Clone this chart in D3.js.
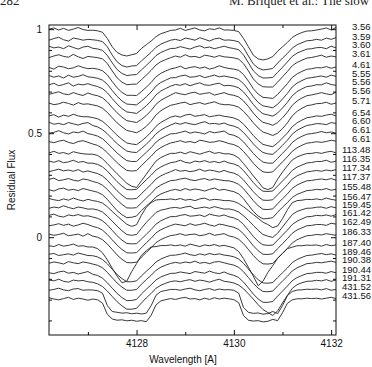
<!DOCTYPE html>
<html>
<head>
<meta charset="utf-8">
<script src="https://cdn.jsdelivr.net/npm/d3@7"></script>
<style>
body { margin: 0; background: #fff; }
svg text { font-family: "Liberation Sans", Arial, sans-serif; }
</style>
</head>
<body>
<svg id="chart" width="372" height="367"></svg>
<script>
// wavelength grid [A]
var wave = [4126.2,4126.3,4126.4,4126.5,4126.6,4126.7,4126.8,4126.9,4127.0,4127.1,
 4127.2,4127.3,4127.4,4127.5,4127.6,4127.7,4127.8,4127.9,4128.0,4128.1,
 4128.2,4128.3,4128.4,4128.5,4128.6,4128.7,4128.8,4128.9,4129.0,4129.1,
 4129.2,4129.3,4129.4,4129.5,4129.6,4129.7,4129.8,4129.9,4130.0,4130.1,
 4130.2,4130.3,4130.4,4130.5,4130.6,4130.7,4130.8,4130.9,4131.0,4131.1,
 4131.2,4131.3,4131.4,4131.5,4131.6,4131.7,4131.8,4131.9,4132.0,4132.1];

// depth below the continuum, in thousandths, one array per spectrum
var s01 = [0,-6,4,-4,6,0,-8,2,6, 5,8,15,45,85,112,124,129,123,117,93,75,57,36,22,14,6, 4,-4,6,0,-6,4,8,-2,2,-6,4, 4,6,12,45,85,125,143,148,143,132,106,85,64,40,26,16,9,8,4, 0,-6,4,-8];
var s02 = [6,-2,-8,4,10,-4,0,6,2, 4,7,13,38,78,110,128,135,130,128,106,85,64,40,25,15,6, 2,8,-4,0,6,-6,2,10,0,-4,6, 5,8,14,42,82,120,140,149,146,142,116,92,70,44,28,18,9,7,2, 6,-4,2,-6];
var s03 = [-4,4,0,8,-6,2,10,0,-4, 6,9,16,40,76,108,127,137,134,132,110,88,66,41,26,16,7, 6,-2,4,10,0,-6,4,0,8,2,-4, 3,7,13,38,76,114,137,149,148,146,122,97,72,45,29,19,10,8,3, 2,8,-4,4];
var s04 = [8,0,-6,2,6,-8,4,12,2, 5,8,14,36,72,105,126,138,136,135,114,92,69,43,27,17,8, 0,6,-6,4,2,8,-4,0,6,-2,4, 6,9,15,37,72,110,134,148,149,149,126,100,75,47,31,20,10,7,2, -4,6,0,4];
var s05 = [2,10,-4,0,8,4,-6,2,8, 6,10,18,38,70,100,122,136,136,137,118,97,74,47,30,19,9, 4,-4,8,2,-2,6,0,10,4,-6,2, 7,10,16,36,68,104,130,146,148,151,132,106,80,50,33,21,11,8,3, 4,-2,6,0];
var s06 = [-2,6,0,10,-4,6,2,-6,4, 7,11,20,40,70,98,120,135,137,139,121,100,77,49,31,20,9, 8,0,-4,6,4,-2,8,2,-4,4,0, 5,9,17,37,67,100,127,144,148,153,136,111,84,53,34,22,11,8,4, 0,6,-4,2];
var s07 = [4,-4,8,2,-6,10,0,4,-2, 6,12,22,42,70,96,118,134,137,141,124,104,81,52,33,21,10, 2,6,-2,8,0,-6,4,6,0,-4,8, 6,10,18,38,66,98,124,143,148,154,139,115,88,56,36,23,12,9,3, 4,-6,2,6];
var s08 = [6,0,-6,4,8,-2,6,12,0, 8,13,23,43,70,95,116,133,137,142,127,108,84,54,35,22,10, -2,4,8,0,-4,6,2,-2,10,4,-2, 7,11,19,38,65,96,122,141,147,155,142,119,92,59,38,24,13,9,4, -2,4,8,-4];
var s09 = [0,8,4,-4,2,10,-2,6,4, 9,14,25,45,71,95,115,132,137,143,130,112,88,57,37,23,11, 6,0,-4,8,2,-2,6,0,-6,4,8, 8,12,20,40,66,95,120,140,147,156,145,123,96,62,40,25,13,9,3, 2,-4,6,0];
var s10 = [4,-2,10,0,6,-4,4,8,8, 12,18,30,50,74,97,117,134,139,142,125,105,82,54,35,22,10, 4,10,0,-4,6,2,-2,8,4,0,6, 9,14,24,44,70,98,122,141,147,152,134,110,86,56,37,24,13,9,4, 6,0,-4,4];
var s11 = [-4,6,2,8,-2,4,10,2,-2, 12,19,32,52,76,99,118,135,140,142,123,102,79,52,34,21,10, 0,6,-2,4,8,0,-6,4,2,6,0, 10,15,25,46,72,100,124,142,148,151,131,107,83,54,35,23,12,8,3, 4,8,-2,2];
var s12 = [6,2,-6,4,10,0,4,-4,8, 13,20,33,54,78,101,121,138,142,142,120,98,76,49,32,20,9, 8,2,-4,6,0,4,10,-2,4,0,-4, 11,16,27,48,75,103,127,145,150,150,127,103,79,51,33,21,11,8,4, -2,4,0,6];
var s13 = [2,8,0,-4,6,12,2,-2,6, 14,21,35,56,80,104,124,141,144,142,118,95,73,47,31,19,9, 4,-2,6,2,8,-4,0,6,4,-2,4, 12,17,28,50,77,106,130,148,151,148,124,100,76,49,32,20,10,7,3, 6,2,-4,0];
var s14 = [4,-4,6,2,10,-2,4,8,10, 10,16,32,55,80,104,127,150,164,170,138,106,74,43,26,15,6, 6,0,8,-2,4,10,2,-4,6,2,8, 8,14,28,55,84,114,142,172,180,170,130,96,66,38,23,14,7,6,2, 6,0,-4,4];
var s15 = [0,6,-2,8,4,-4,6,2,10, 10,16,28,48,74,99,120,137,138,136,113,90,68,43,28,17,8, 4,-4,6,10,0,4,-2,6,2,8,0, 9,14,24,46,74,103,128,145,146,144,120,96,72,45,29,19,9,7,2, 2,-4,6,0];
var s16 = [8,2,-4,4,0,6,-2,10,4, 11,17,29,49,75,100,121,138,139,137,114,91,69,43,28,17,8, -2,6,2,8,4,-4,6,0,4,10,2, 10,15,26,48,76,104,128,145,146,143,119,95,71,44,28,18,9,6,2, 6,0,4,-2];
var s17 = [2,-4,8,4,-2,6,10,0,4, 12,18,30,50,76,101,122,139,140,138,115,92,70,44,29,18,8, 6,0,-4,4,8,2,-2,6,0,4,8, 9,15,26,47,75,104,129,146,147,144,119,95,72,45,29,18,9,7,3, 0,4,-2,6];
var s18 = [4,10,0,-4,6,2,8,-2,4, 10,16,28,50,78,104,124,138,136,130,104,82,62,38,24,15,7, 2,8,-2,6,0,4,10,2,-4,6,2, 8,13,24,47,78,108,130,144,142,138,112,88,66,41,26,17,8,6,2, 4,-2,6,2];
var s19 = [-2,4,8,0,6,-4,4,10,2, 8,12,20,38,60,82,102,122,132,124,78,40,18,5,3,3,0, 4,-2,6,2,8,0,-4,6,2,4,8, 8,12,22,38,56,75,93,112,123,138,130,95,52,18,8,6,2,3,0, 4,-4,2,6];
var s20 = [6,0,4,-6,2,8,0,4,10, 9,14,24,44,68,92,114,132,136,132,102,74,50,26,15,10,4, 2,6,0,-4,8,4,0,6,-2,4,10, 9,14,24,42,64,88,112,132,140,146,126,96,66,36,21,13,6,5,1, 0,6,-2,4];
var s21 = [2,-4,6,10,0,4,-2,6,4, 10,16,28,48,74,100,121,137,139,138,116,93,70,44,28,17,8, 8,2,-2,6,4,0,8,-4,2,6,0, 9,14,25,46,74,103,127,144,146,145,121,97,73,46,30,19,9,7,2, 4,0,6,-2];
var s22 = [8,4,-2,6,0,10,4,-4,2, 11,17,29,50,76,101,122,138,139,137,114,90,68,42,27,16,7, 0,4,8,-2,6,2,-4,4,10,0,4, 10,15,26,47,75,104,128,145,146,143,118,94,70,44,28,18,8,6,2, 2,6,-4,0];
var s23 = [0,6,2,-4,8,4,0,10,-2, 10,15,27,48,74,100,121,137,138,135,111,88,66,41,26,16,7, 4,-2,6,2,0,8,4,-4,6,2,-2, 9,14,25,46,74,103,127,143,144,141,116,92,69,43,27,17,8,6,2, 4,-2,2,6];
var s24 = [4,8,-2,6,2,-4,6,4,10, 10,18,38,72,112,150,182,174,128,90,50,28,10,8,3,3,0, 4,0,6,-4,2,8,0,4,-2,6,2, 8,14,32,66,108,150,196,174,132,100,64,42,18,11,4,4,1,2,0, 6,-2,4,0];
var s25 = [2,-2,8,4,0,6,-4,2,8, 9,15,27,48,74,99,119,134,134,130,106,84,63,39,25,15,7, 6,2,-4,4,8,0,6,-2,4,0,6, 9,14,25,46,73,101,124,140,141,138,114,91,68,42,27,17,8,6,2, -2,4,0,6];
var s26 = [6,0,4,10,-2,4,8,0,4, 10,16,28,50,76,101,121,136,136,132,107,85,64,40,25,15,7, 2,6,0,4,-4,6,2,8,0,-2,4, 10,15,26,47,75,103,126,142,143,140,115,92,69,43,28,18,8,6,2, 4,0,-4,2];
var s27 = [4,8,0,-4,6,2,10,4,-2, 11,17,30,52,78,103,123,138,137,132,106,83,62,38,24,15,7, 6,0,4,8,-2,2,6,-4,4,8,0, 10,16,27,49,77,106,130,146,146,142,116,92,68,42,27,17,8,6,2, 2,6,-2,4];
var s28 = [0,4,-4,6,10,0,4,2,8, 11,18,31,53,79,104,124,140,140,136,110,86,64,39,25,15,7, 4,8,2,-2,6,0,4,10,2,-4,6, 9,14,24,42,66,92,118,142,156,170,148,110,74,40,22,13,6,5,1, 4,-2,6,0];
var s29 = [6,2,-4,4,8,0,-2,6,4, 5,8,20,80,108,112,116,114,119,116,120,116,80,30,12,7,2, 2,6,0,-4,4,8,2,-2,6,0,4, 3,6,20,90,112,117,115,121,118,108,118,80,32,12,5,4,1,2,0, 4,-2,6,2];
var s30 = [-2,4,8,2,-4,6,0,4,10, 4,8,24,78,100,106,104,109,106,111,108,113,82,32,13,7,2, 6,0,-4,4,2,8,0,6,-2,4,0, 3,7,22,84,106,110,108,114,111,102,108,70,25,8,3,3,0,2,0, 4,0,-4,2];

var labels = ["3.56","3.59","3.60","3.61","4.61","5.55","5.56","5.56","5.71","6.54",
 "6.60","6.61","6.61","113.48","116.35","117.34","117.37","155.48","156.47","159.45",
 "161.42","162.49","186.33","187.40","189.46","190.38","190.44","191.31","431.52","431.56"];
// continuum level of each spectrum (residual flux units)
var offsets = [1.0,0.953,0.914,0.871,0.818,0.775,0.736,0.693,0.645,0.587,
 0.549,0.506,0.462,0.409,0.366,0.323,0.28,0.232,0.184,0.145,
 0.107,0.063,0.015,-0.037,-0.08,-0.119,-0.167,-0.206,-0.249,-0.293];
var spectra = [s01,s02,s03,s04,s05,s06,s07,s08,s09,s10,s11,s12,s13,s14,s15,
 s16,s17,s18,s19,s20,s21,s22,s23,s24,s25,s26,s27,s28,s29,s30];

var xMajor = [4128, 4130, 4132];
var xMinor = [4127, 4129, 4131];
var yMajor = [0, 0.5, 1];
var yMinor = [-0.4,-0.3,-0.2,-0.1,0.1,0.2,0.3,0.4,0.6,0.7,0.8,0.9];

var svg = d3.select("#chart");
var L = 49, R = 336, T = 25, B = 335;
var x = d3.scaleLinear().domain([4126.2, 4132.1]).range([L, R]);
var y = d3.scaleLinear().domain([-0.47, 1.02]).range([B, T]);

// page header (cut off at the top of the scan)
svg.append("text").attr("x", 0).attr("y", 5).style("font-family", "'Liberation Serif', 'Times New Roman', serif").style("font-size", "13px").attr("fill", "#222").text("282");
svg.append("text").attr("x", 229).attr("y", 5).style("font-family", "'Liberation Serif', 'Times New Roman', serif").style("font-size", "13px").attr("fill", "#222").text("M. Briquet et al.: The slow");

// spectra
var line = d3.line().x(function(d, i) { return x(wave[i]); });
spectra.forEach(function(s, k) {
  svg.append("path").datum(s)
    .attr("fill", "none").attr("stroke", "#222").attr("stroke-width", 0.9)
    .attr("d", line.y(function(d) { return y(offsets[k] - d / 1000); }));
});

// axes
function axis(gen, tr, vals, size, fmt) {
  var g = svg.append("g").attr("transform", tr)
    .call(gen.tickValues(vals).tickSize(size).tickSizeOuter(0).tickPadding(5).tickFormat(fmt));
  g.select(".domain").remove();
  g.selectAll("line").attr("stroke", "#111");
  g.selectAll("text").style("font-size", "10px").attr("fill", "#111");
  return g;
}
axis(d3.axisBottom(x), "translate(0," + B + ")", xMajor, -5, d3.format("d"));
axis(d3.axisBottom(x), "translate(0," + B + ")", xMinor, -3, function() { return ""; });
axis(d3.axisTop(x), "translate(0," + T + ")", xMajor, -5, function() { return ""; });
axis(d3.axisTop(x), "translate(0," + T + ")", xMinor, -3, function() { return ""; });
axis(d3.axisLeft(y), "translate(" + L + ",0)", yMajor, -5, function(d) { return d; }).selectAll("text").attr("x", -7);
axis(d3.axisLeft(y), "translate(" + L + ",0)", yMinor, -3, function() { return ""; });
axis(d3.axisRight(y), "translate(" + R + ",0)", yMajor, -5, function() { return ""; });
axis(d3.axisRight(y), "translate(" + R + ",0)", yMinor, -3, function() { return ""; });

svg.append("rect").attr("x", L).attr("y", T).attr("width", R - L).attr("height", B - T)
  .attr("fill", "none").attr("stroke", "#111").attr("stroke-width", 1);

// spectrum labels on the right
svg.selectAll(".lab").data(labels).enter().append("text")
  .attr("class", "lab")
  .attr("x", function(d) { return d.length > 4 ? 342 : 352; })
  .attr("y", function(d, i) { return y(offsets[i]) - 2; })
  .attr("dy", "0.35em")
  .style("font-size", "9.5px").attr("fill", "#111")
  .text(function(d) { return d; });

// axis titles
svg.append("text").attr("x", 183).attr("y", 363).attr("text-anchor", "middle")
  .style("font-size", "10px").attr("fill", "#111").text("Wavelength [A]");
svg.append("text").attr("transform", "translate(15,180) rotate(-90)").attr("text-anchor", "middle")
  .style("font-size", "10px").attr("fill", "#111").text("Residual Flux");
</script>
</body>
</html>
